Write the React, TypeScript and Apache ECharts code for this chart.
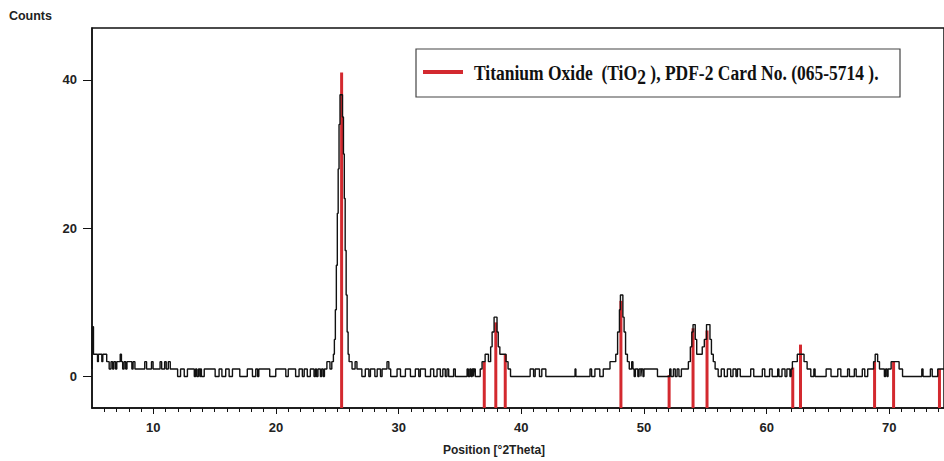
import React, { useEffect, useRef } from 'react';
import * as echarts from 'echarts';

// Measured XRD trace: [position °2θ, counts] at each step change
const trace: [number, number][] = [
  [5.00, 1], [5.02, 6.7], [5.12, 3], [5.45, 2], [5.52, 3], [5.80, 2], [5.88, 3], [6.20, 2], [6.40, 1], [6.55, 2],
  [6.68, 1], [6.78, 2], [6.92, 1], [7.02, 2], [7.30, 3], [7.40, 2], [7.50, 1], [7.62, 2], [7.75, 1], [7.85, 2],
  [8.25, 1], [8.35, 2], [8.50, 1],
  [9.30, 2], [9.45, 1], [9.85, 2], [9.98, 1], [10.55, 2], [10.68, 1], [10.92, 2], [11.05, 1], [11.22, 2], [11.38, 1],
  [11.98, 0], [12.22, 1], [12.52, 0], [12.78, 1], [13.34, 0], [13.45, 1], [13.55, 0], [13.68, 1], [13.80, 0],
  [13.86, 1], [13.92, 0], [14.15, 1],
  [15.04, 0], [15.36, 1], [15.59, 0], [15.90, 1], [16.18, 0], [16.45, 1], [17.05, 0], [17.66, 1], [18.08, 0],
  [18.35, 1], [18.50, 0], [18.60, 1], [19.49, 0], [19.98, 1], [20.80, 0], [21.00, 1], [21.60, 0], [21.88, 1],
  [22.15, 0], [22.30, 1], [22.55, 0], [22.80, 1], [23.10, 0], [23.22, 1], [23.30, 0], [23.42, 1], [23.62, 0],
  [23.72, 1], [23.85, 0], [23.95, 1],
  [24.15, 2], [24.40, 1], [24.55, 2], [24.68, 3], [24.76, 5], [24.84, 9], [24.92, 15], [25.00, 22], [25.07, 28],
  [25.14, 34], [25.22, 38], [25.42, 35], [25.50, 30], [25.57, 24], [25.64, 17], [25.72, 11], [25.80, 6],
  [25.88, 3], [25.96, 2],
  [26.20, 1], [26.45, 2], [26.60, 1], [27.00, 0], [27.28, 1], [27.57, 0], [27.70, 1], [28.06, 0], [28.25, 1],
  [28.52, 0], [28.65, 1], [29.05, 2], [29.20, 1], [29.35, 0],
  [29.87, 1], [30.15, 0], [30.55, 1], [30.96, 0], [31.36, 1], [31.64, 0], [31.77, 1], [32.18, 0], [32.60, 1],
  [32.86, 0], [33.13, 1], [33.40, 0], [33.60, 1], [33.80, 0], [33.94, 1], [34.08, 0], [34.48, 1], [34.62, 0],
  [35.58, 1], [35.68, 0], [35.80, 1], [35.90, 0], [36.00, 1], [36.10, 0], [36.15, 1], [36.25, 0],
  [36.65, 1], [36.80, 2], [37.05, 3], [37.32, 2], [37.50, 4], [37.62, 6], [37.78, 8], [38.02, 6], [38.12, 4],
  [38.25, 3], [38.75, 2], [38.92, 1], [39.12, 0],
  [40.72, 1], [41.00, 0], [41.13, 1], [41.48, 0], [41.67, 1], [42.00, 0], [44.38, 1], [44.45, 0], [45.60, 1],
  [45.73, 0], [46.00, 1], [46.40, 0], [46.68, 1], [47.23, 2], [47.70, 3], [47.85, 6], [48.00, 9], [48.08, 11],
  [48.28, 8], [48.38, 6], [48.50, 3], [48.65, 2], [48.80, 1],
  [49.00, 2], [49.10, 1], [49.20, 0], [49.30, 1], [49.50, 0], [49.60, 1], [49.75, 0], [49.80, 1], [49.92, 0],
  [50.00, 1], [51.10, 0],
  [52.10, 1], [52.20, 0], [52.40, 1], [52.55, 0], [52.70, 1], [52.85, 0], [53.05, 1], [53.62, 2], [53.78, 4],
  [53.90, 6], [54.00, 7], [54.18, 5], [54.30, 3], [54.75, 4], [54.92, 5], [55.10, 7], [55.38, 5], [55.50, 3],
  [55.65, 2], [55.80, 1], [56.05, 0],
  [56.30, 1], [56.55, 0], [56.80, 1], [57.07, 0], [57.26, 1], [57.50, 0], [57.62, 1], [57.85, 0], [58.70, 1],
  [58.95, 0], [59.65, 1], [59.85, 0], [60.24, 1], [60.45, 0], [60.90, 1], [61.00, 0], [61.25, 1], [61.50, 0],
  [61.65, 1], [61.90, 0],
  [62.00, 1], [62.10, 2], [62.50, 3], [63.05, 2], [63.30, 1], [63.60, 0], [63.85, 1], [63.95, 0], [64.85, 1],
  [65.25, 0], [65.80, 1], [66.05, 0], [66.60, 1], [66.75, 0], [67.15, 1], [67.30, 0], [67.80, 1], [68.00, 0],
  [68.24, 1], [68.72, 2], [68.85, 3], [69.05, 2], [69.20, 1], [69.60, 0], [69.70, 1], [69.82, 0], [69.90, 1],
  [70.15, 2], [70.80, 1], [71.08, 0],
  [72.65, 1], [72.75, 0], [73.35, 1], [73.50, 0], [73.95, 1], [74.46, 1],
];

// Reference pattern sticks (PDF-2 065-5714)
const stickPositions = [25.35, 36.98, 37.92, 38.69, 48.12, 52.05, 54.0, 55.14, 62.13, 62.76, 68.8, 70.35, 74.09];
const stickHeights = [41.0, 2.0, 7.3, 3.0, 10.2, 0.2, 6.5, 6.2, 1.2, 4.3, 2.0, 2.0, 1.0];

const xTickLabels = [10, 20, 30, 40, 50, 60, 70];
const yTickLabels = [0, 20, 40];

const X_MIN = 5;
const X_MAX = 74.46;
const Y_MIN = -4.25;
const Y_MAX = 47;

export default function App() {
  const ref = useRef<HTMLDivElement>(null);

  useEffect(() => {
    if (!ref.current) return;
    const chart = echarts.init(ref.current, null, { renderer: 'svg' });
    const minorTicks: number[] = [];
    for (let v = 6; v <= 74; v++) if (v % 10 !== 0) minorTicks.push(v);
    const labelFont = { fontFamily: 'Liberation Sans, Arial, sans-serif', fontWeight: 'bold' as const, color: '#222' };

    chart.setOption({
      animation: false,
      backgroundColor: '#fff',
      grid: {
        left: 92, top: 28, right: -2, bottom: 47,
        show: true, borderColor: '#111', borderWidth: 1.5,
        containLabel: false,
      },
      xAxis: [
        {
          type: 'value', min: X_MIN, max: X_MAX, position: 'bottom',
          axisLine: { show: true, onZero: false, lineStyle: { color: '#111', width: 1.5 } },
          axisTick: { show: true, customValues: xTickLabels, length: 6, lineStyle: { color: '#111', width: 1 } },
          axisLabel: { customValues: xTickLabels, margin: 13, fontSize: 13, ...labelFont },
          splitLine: { show: false },
          name: 'Position [°2Theta]', nameLocation: 'middle', nameGap: 36,
          nameTextStyle: { fontSize: 12, padding: [0, 48, 0, 0], ...labelFont },
        },
        {
          type: 'value', min: X_MIN, max: X_MAX, position: 'bottom',
          axisLine: { show: false, onZero: false },
          axisTick: { show: true, customValues: minorTicks, length: 4, lineStyle: { color: '#111', width: 1 } },
          axisLabel: { show: false },
          splitLine: { show: false },
        },
      ],
      yAxis: {
        type: 'value', min: Y_MIN, max: Y_MAX,
        axisLine: { show: true, onZero: false, lineStyle: { color: '#111', width: 1.5 } },
        axisTick: { show: true, customValues: yTickLabels, length: 9, lineStyle: { color: '#111', width: 1 } },
        axisLabel: { customValues: yTickLabels, margin: 15, fontSize: 13, ...labelFont },
        splitLine: { show: false },
        name: 'Counts', nameLocation: 'end', nameGap: 6,
        nameTextStyle: { fontSize: 12.5, align: 'right', verticalAlign: 'bottom', padding: [0, 40, 0, 0], ...labelFont },
      },
      series: [
        {
          type: 'custom',
          name: 'Titanium Oxide (TiO2), PDF-2 Card No. (065-5714).',
          xAxisIndex: 0,
          data: stickPositions.map((p, i) => [p, stickHeights[i]]),
          encode: { x: 0, y: 1 },
          z: 2,
          renderItem: (params: any, api: any) => {
            const x = api.value(0);
            const h = api.value(1);
            const p0 = api.coord([x, Y_MIN]);
            const p1 = api.coord([x, h]);
            return {
              type: 'line',
              shape: { x1: p0[0], y1: p0[1], x2: p1[0], y2: p1[1] },
              style: { stroke: '#d3292f', lineWidth: 3 },
            };
          },
        },
        {
          type: 'line',
          name: 'XRD',
          xAxisIndex: 0,
          data: trace,
          step: 'end',
          symbol: 'none',
          z: 3,
          lineStyle: { color: '#111', width: 1.4 },
        },
      ],
      graphic: [
        {
          type: 'rect', z: 10,
          shape: { x: 416, y: 49, width: 484, height: 48 },
          style: { fill: '#fff', stroke: '#444', lineWidth: 1.2 },
        },
        {
          type: 'line', z: 11,
          shape: { x1: 423, y1: 72, x2: 463, y2: 72 },
          style: { stroke: '#d3292f', lineWidth: 4 },
        },
        {
          type: 'text', z: 11, x: 474, y: 73, scaleY: 1.2,
          style: {
            text: '{a|Titanium Oxide  (TiO}{s|2}{a| ), PDF-2 Card No. (065-5714 ).}',
            verticalAlign: 'middle',
            fill: '#111',
            rich: {
              a: { fontFamily: 'Liberation Serif, Times New Roman, serif', fontWeight: 'bold', fontSize: 17.5, fill: '#111' },
              s: { fontFamily: 'Liberation Serif, Times New Roman, serif', fontWeight: 'bold', fontSize: 17.5, fill: '#111', padding: [6, 0, 0, 0] },
            },
          },
        },
      ],
    });
    return () => chart.dispose();
  }, []);

  return <div ref={ref} style={{ position: 'absolute', left: 0, top: 0, width: 944, height: 461 }} />;
}
